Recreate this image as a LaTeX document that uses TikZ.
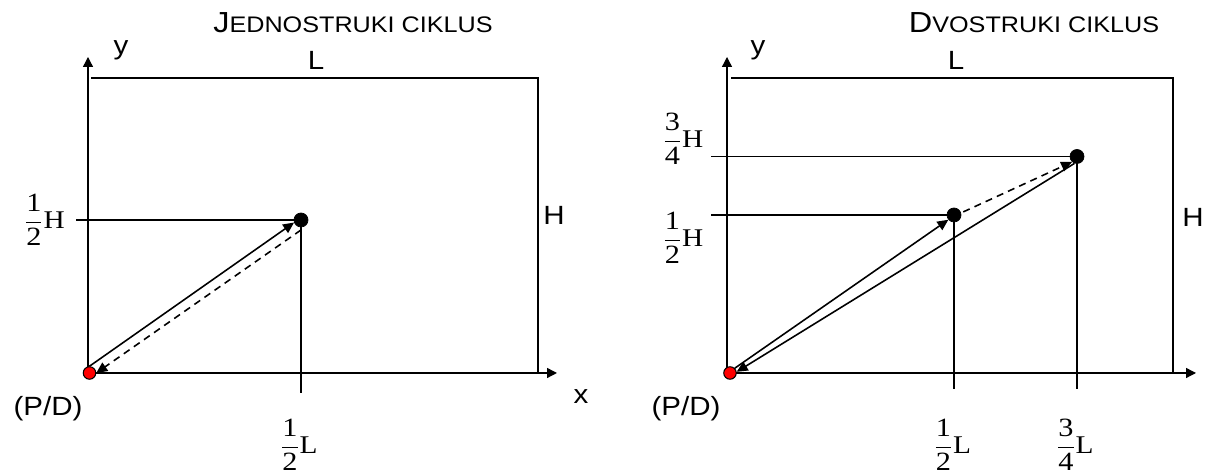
\documentclass[tikz,border=0pt]{standalone}
\usepackage{amsmath}
\usepackage{fontspec}
\setmainfont[FakeStretch=1.12]{Liberation Sans}
\newfontfamily\ciklSerif[FakeStretch=1.15]{Liberation Serif}
\usepackage{tikz}
\usetikzlibrary{arrows.meta,positioning}
\definecolor{ciklInk}{HTML}{000000}
\definecolor{ciklDepot}{HTML}{FF0000}
\newcommand{\ciklFrac}[3]{%
  $\displaystyle\frac{\mbox{\ciklSerif #1}}{\mbox{\ciklSerif #2}}$%
  {\ciklSerif\fontsize{14.5pt}{15pt}\selectfont #3}}
\tikzset{
  % Both panels share the same warehouse frame; only the stops differ.
  cikl/base/.style={
    font=\fontsize{15pt}{17pt}\selectfont,
    text=ciklInk,
    line cap=butt,
    line join=miter
  },
  cikl/title/.style={
    font=\fontsize{12.8pt}{14pt}\selectfont,
    text=ciklInk
  },
  cikl/label/.style={
    font=\fontsize{15pt}{17pt}\selectfont,
    text=ciklInk,
    inner sep=0pt
  },
  cikl/frac label/.style={
    font=\fontsize{15pt}{17pt}\selectfont,
    text=ciklInk,
    inner sep=0pt
  },
  cikl/axis/.style={
    -{Triangle[length=2mm,width=2mm]},
    draw=ciklInk,
    line width=.75pt
  },
  cikl/frame/.style={
    draw=ciklInk,
    line width=.9pt
  },
  cikl/leader/.style={
    draw=ciklInk,
    line width=.75pt
  },
  cikl/trip/.style={
    -{Triangle[length=2.2mm,width=2mm]},
    draw=ciklInk,
    line width=.9pt
  },
  cikl/return/.style={
    cikl/trip,
    dash pattern=on 4pt off 3pt
  },
  cikl/depot/.style={
    circle,
    draw=ciklInk,
    fill=ciklDepot,
    line width=.6pt,
    minimum size=2.5mm,
    inner sep=0pt
  },
  cikl/stop/.style={
    circle,
    draw=ciklInk,
    fill=ciklInk,
    minimum size=2.8mm,
    inner sep=0pt
  }
}
\begin{document}
\begin{tikzpicture}[cikl/base,x=1cm,y=1cm]
  \path[use as bounding box] (0,0) rectangle (24.3,9.48);

  % (a) single command cycle
  \node[cikl/title] (titleOne) at (7.06,9.02)
    {{\fontsize{16.5pt}{17pt}\selectfont J}EDNOSTRUKI CIKLUS};
  \coordinate (originOne) at (1.76,2.02);
  \draw[cikl/axis] (originOne) -- (1.76,8.34);
  \draw[cikl/axis] (originOne) -- (11.14,2.02);
  \draw[cikl/frame] (1.82,7.92) -- (10.76,7.92) -- (10.76,2.02);
  \draw[cikl/leader] (1.52,5.08) -- (6.02,5.08);
  \draw[cikl/leader] (6.02,5.08) -- (6.02,1.62);
  \node[cikl/depot] (depotOne) at (1.79,2.02) {};
  \node[cikl/stop] (stopOne) at (6.02,5.08) {};
  \draw[cikl/trip] (depotOne.north) -- (stopOne.200);
  \draw[cikl/return] ([yshift=-1.5pt]stopOne.south) -- (depotOne.east);
  \node[cikl/label] (yOne) at (2.42,8.48) {y};
  \node[cikl/label] (lOne) at (6.32,8.28) {L};
  \node[cikl/label] (hOne) at (11.08,5.18) {H};
  \node[cikl/label] (xOne) at (11.62,1.54) {x};
  \node[cikl/label] (pdOne) at (0.96,1.30) {(P/D)};
  \node[cikl/frac label] (halfHOne) at (0.89,5.08) {\ciklFrac{1}{2}{H}};
  \node[cikl/frac label] (halfLOne) at (5.98,0.58) {\ciklFrac{1}{2}{L}};

  % (b) dual command cycle
  \node[cikl/title] (titleTwo) at (20.68,9.02)
    {{\fontsize{16.5pt}{17pt}\selectfont D}VOSTRUKI CIKLUS};
  \coordinate (originTwo) at (14.54,2.02);
  \draw[cikl/axis] (originTwo) -- (14.54,8.34);
  \draw[cikl/axis] (originTwo) -- (23.92,2.02);
  \draw[cikl/frame] (14.62,7.92) -- (23.46,7.92) -- (23.46,2.02);
  \foreach \xx/\yy in {19.08/5.18,21.54/6.35} {
    \draw[cikl/leader] (14.22,\yy) -- (\xx,\yy);
    \draw[cikl/leader] (\xx,\yy) -- (\xx,1.70);
  }
  \node[cikl/depot] (depotTwo) at (14.60,2.02) {};
  \node[cikl/stop] (stopHalf) at (19.08,5.18) {};
  \node[cikl/stop] (stopThree) at (21.54,6.35) {};
  \draw[cikl/trip] (depotTwo.north east) -- (stopHalf.220);
  \draw[cikl/return] ([xshift=1.5pt]stopHalf.25) -- (stopThree.228);
  \draw[cikl/trip] (stopThree.250) -- (depotTwo.10);
  \node[cikl/label] (yTwo) at (15.16,8.48) {y};
  \node[cikl/label] (lTwo) at (19.12,8.28) {L};
  \node[cikl/label] (hTwo) at (23.86,5.14) {H};
  \node[cikl/label] (pdTwo) at (13.72,1.30) {(P/D)};
  \node[cikl/frac label] (threeHTwo) at (13.66,6.70) {\ciklFrac{3}{4}{H}};
  \node[cikl/frac label] (halfHTwo) at (13.66,4.72) {\ciklFrac{1}{2}{H}};
  \node[cikl/frac label] (halfLTwo) at (19.05,0.58) {\ciklFrac{1}{2}{L}};
  \node[cikl/frac label] (threeLTwo) at (21.50,0.58) {\ciklFrac{3}{4}{L}};
\end{tikzpicture}
\end{document}
